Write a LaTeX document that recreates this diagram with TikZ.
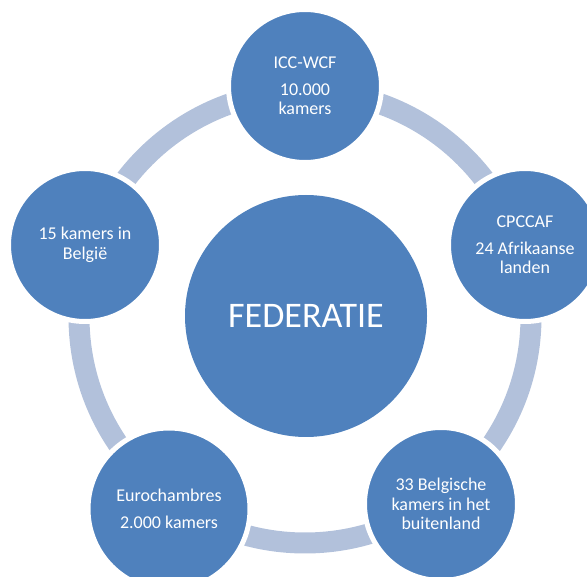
\documentclass[tikz,border=0pt]{standalone}
\usepackage{fontspec}
\setmainfont{Carlito}
\definecolor{fedblue}{HTML}{4F81BD}
\definecolor{ringblue}{HTML}{B2C1DB}
\tikzset{
	member/.style={circle,fill=fedblue,draw=white,line width=5pt,minimum size=153pt,inner sep=0pt,text=white,align=center,font=\fontsize{18}{19.5}\selectfont},
	hub/.style={circle,fill=fedblue,minimum size=242pt,inner sep=0pt,text=white,font=\fontsize{36}{40}\selectfont},
	ring/.style={draw=ringblue,line width=21pt}
}
\begin{document}
\begin{tikzpicture}[x=1pt,y=-1pt,line join=round]
	\useasboundingbox (0,0) rectangle (587,577);
	\path
	(305,317) coordinate(O)
	(305,86) coordinate(T)
	(525,245) coordinate(R)
	(441,504) coordinate(BR)
	(169,509) coordinate(BL)
	(85,245) coordinate(L)
	;
	% ring behind the circles
	\draw[ring] (O) circle (226);
	\node[hub] (fed) at (306,316) {FEDERATIE};
	\node[member] (icc) at (T) {ICC-WCF\\[7pt]10.000\\kamers};
	\node[member] (cpccaf) at (R) {CPCCAF\\[7pt]24 Afrikaanse\\landen};
	\node[member] (buit) at (BR) {33 Belgische\\kamers in het\\buitenland};
	\node[member,minimum size=162pt] (euro) at (BL) {Eurochambres\\[7pt]2.000 kamers};
	\node[member] (belg) at (L) {15 kamers in\\Belgi\"e};
\end{tikzpicture}
\end{document}
